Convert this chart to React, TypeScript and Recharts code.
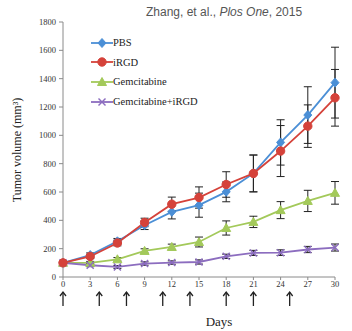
import React from 'react';
import { LineChart, Line, XAxis, YAxis, ErrorBar } from 'recharts';

const days = [0, 3, 6, 9, 12, 15, 18, 21, 24, 27, 30];
const pbs = [100, 155, 252, 365, 460, 507, 601, 731, 950, 1143, 1372];
const pbsErr = [10, 15, 20, 30, 50, 85, 70, 130, 160, 200, 250];
const irgd = [100, 145, 240, 385, 514, 561, 653, 731, 889, 1065, 1265];
const irgdErr = [10, 15, 20, 30, 50, 75, 90, 130, 180, 150, 200];
const gem = [100, 100, 125, 184, 212, 247, 346, 389, 472, 537, 594];
const gemErr = [8, 10, 12, 15, 20, 35, 50, 40, 60, 75, 80];
const combo = [100, 83, 71, 95, 102, 106, 146, 170, 172, 194, 208];
const comboErr = [8, 10, 10, 12, 12, 15, 15, 18, 20, 22, 25];

const arrowDays = [0, 4, 7, 11, 14, 18, 21, 25];
const yTicks = [0, 200, 400, 600, 800, 1000, 1200, 1400, 1600, 1800];
const xTicks = [0, 3, 6, 9, 12, 15, 18, 21, 24, 27, 30];

const seriesNames = ['PBS', 'iRGD', 'Gemcitabine', 'Gemcitabine+iRGD'];

const data = days.map((d, i) => ({
  day: d,
  pbs: pbs[i],
  pbsErr: pbsErr[i],
  irgd: irgd[i],
  irgdErr: irgdErr[i],
  gem: gem[i],
  gemErr: gemErr[i],
  combo: combo[i],
  comboErr: comboErr[i],
}));

const BLUE = '#4b8fd6';
const RED = '#d5423a';
const GREEN = '#a3c95a';
const PURPLE = '#8c6dbf';
const SERIF = '"Liberation Serif", "Times New Roman", serif';

type Shape = 'diamond' | 'circle' | 'triangle' | 'cross';

const marker = (shape: Shape, color: string, cx: number, cy: number, key?: any) => {
  if (shape === 'diamond') {
    return <polygon key={key} points={`${cx},${cy - 4.5} ${cx + 4},${cy} ${cx},${cy + 4.5} ${cx - 4},${cy}`} fill={color} stroke={color} />;
  }
  if (shape === 'circle') {
    return <circle key={key} cx={cx} cy={cy} r={4.2} fill={color} stroke={color} />;
  }
  if (shape === 'triangle') {
    return <polygon key={key} points={`${cx},${cy - 4.5} ${cx + 4.5},${cy + 3.5} ${cx - 4.5},${cy + 3.5}`} fill={color} stroke={color} />;
  }
  return (
    <g key={key}>
      <line x1={cx - 3.5} y1={cy - 3.5} x2={cx + 3.5} y2={cy + 3.5} stroke={color} strokeWidth={1.4} />
      <line x1={cx - 3.5} y1={cy + 3.5} x2={cx + 3.5} y2={cy - 3.5} stroke={color} strokeWidth={1.4} />
    </g>
  );
};

const makeDot = (shape: Shape, color: string) => (props: any) => {
  const { cx, cy, index } = props;
  if (cx == null || cy == null) return <g key={`e-${index}`} />;
  return marker(shape, color, cx, cy, `${shape}-${index}`);
};

const series: { key: string; err: string; name: string; color: string; shape: Shape }[] = [
  { key: 'gem', err: 'gemErr', name: seriesNames[2], color: GREEN, shape: 'triangle' },
  { key: 'combo', err: 'comboErr', name: seriesNames[3], color: PURPLE, shape: 'cross' },
  { key: 'pbs', err: 'pbsErr', name: seriesNames[0], color: BLUE, shape: 'diamond' },
  { key: 'irgd', err: 'irgdErr', name: seriesNames[1], color: RED, shape: 'circle' },
];

const legendOrder = ['pbs', 'irgd', 'gem', 'combo'];

const ArrowTick = (props: any) => {
  const { x, y } = props;
  return (
    <g>
      <line x1={x} y1={y + 1} x2={x} y2={y + 15} stroke="#222" strokeWidth={1.3} />
      <path d={`M${x - 3},${y + 5} L${x},${y + 1} L${x + 3},${y + 5}`} fill="none" stroke="#222" strokeWidth={1.3} />
    </g>
  );
};

export default function App() {
  return (
    <div style={{ position: 'absolute', left: 0, top: 0, width: 352, height: 331, background: '#fff' }}>
      <LineChart
        width={352}
        height={331}
        data={data}
        margin={{ top: 22, right: 17, bottom: 0, left: 0 }}
      >
        <XAxis
          dataKey="day"
          type="number"
          domain={[0, 30]}
          ticks={xTicks}
          stroke="#8a8a8a"
          height={14}
          tickSize={3}
          tickMargin={1}
          tick={{ fontSize: 8.5, fill: '#333', fontFamily: SERIF }}
          interval={0}
        />
        <XAxis
          xAxisId="arrows"
          dataKey="day"
          type="number"
          domain={[0, 30]}
          ticks={arrowDays}
          axisLine={false}
          tickLine={false}
          tickSize={0}
          tickMargin={0}
          height={40}
          interval={0}
          tick={<ArrowTick />}
          label={{
            content: () => (
              <text x={219} y={326} textAnchor="middle" fontSize={13} fontFamily={SERIF} fill="#222">
                Days
              </text>
            ),
          }}
        />
        <YAxis
          type="number"
          domain={[0, 1800]}
          ticks={yTicks}
          width={63}
          stroke="#8a8a8a"
          tickSize={4}
          tickMargin={3}
          tick={{ fontSize: 8.5, fill: '#333', fontFamily: SERIF }}
          interval={0}
          label={{
            content: () => (
              <text
                x={17}
                y={150}
                transform="rotate(-90 17 150)"
                textAnchor="middle"
                dominantBaseline="central"
                fontSize={12}
                fontFamily={SERIF}
                fill="#222"
              >
                Tumor volume (mm³)
              </text>
            ),
          }}
        />
        {series.map((s) => (
          <Line
            key={s.key}
            dataKey={s.key}
            name={s.name}
            stroke={s.color}
            strokeWidth={1.8}
            dot={makeDot(s.shape, s.color)}
            activeDot={false}
            isAnimationActive={false}
          >
            <ErrorBar dataKey={s.err} width={4} stroke="#222" strokeWidth={1} direction="y" />
          </Line>
        ))}
      </LineChart>

      <div
        style={{
          position: 'absolute',
          left: 146,
          top: 4,
          fontFamily: '"Liberation Sans", Arial, sans-serif',
          fontSize: 12,
          color: '#555',
          whiteSpace: 'nowrap',
          lineHeight: '16px',
        }}
      >
        Zhang, et al., <i>Plos One</i>, 2015
      </div>

      <div style={{ position: 'absolute', left: 91, top: 33 }}>
        {legendOrder.map((k) => {
          const s = series.find((x) => x.key === k)!;
          return (
            <div key={k} style={{ display: 'flex', alignItems: 'center', height: 19.6 }}>
              <svg width={22} height={12} style={{ display: 'block' }}>
                <line x1={0} y1={6} x2={22} y2={6} stroke={s.color} strokeWidth={1.8} />
                {marker(s.shape, s.color, 11, 6)}
              </svg>
              <span style={{ fontFamily: SERIF, fontSize: 10.5, color: '#222', whiteSpace: 'nowrap' }}>{s.name}</span>
            </div>
          );
        })}
      </div>
    </div>
  );
}
